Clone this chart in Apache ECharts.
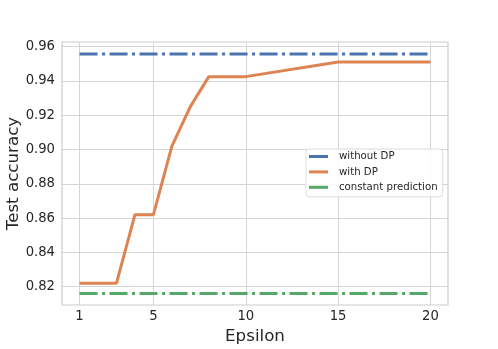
<!DOCTYPE html>
<html>
<head>
<meta charset="utf-8">
<script src="https://cdn.jsdelivr.net/npm/echarts@6/dist/echarts.min.js"></script>
<style>
  html, body { margin: 0; padding: 0; background: #fff; }
  #chart { width: 498px; height: 349px; }
</style>
</head>
<body>
<div id="chart"></div>
<script>
// values
const epsilon = [1, 2, 3, 4, 5, 6, 7, 8, 9, 10, 15, 20];
const withDP = [0.822, 0.822, 0.822, 0.862, 0.862, 0.902, 0.925, 0.9425, 0.9425, 0.9425, 0.951, 0.951];
const baselineX = [1, 20];
const withoutDP = [0.9557, 0.9557];
const constantPrediction = [0.816, 0.816];
const xTicks = [1, 5, 10, 15, 20];
const yTicks = [0.82, 0.84, 0.86, 0.88, 0.90, 0.92, 0.94, 0.96];

const font = "DejaVu Sans";
const textColor = "#262626";
const gridColor = "#d5d5d5";
const dashDot = [18, 4.5, 3, 4.5];

const pairs = (xs, ys) => xs.map((x, i) => [x, ys[i]]);

const chart = echarts.init(document.getElementById("chart"), null, { renderer: "canvas" });

chart.setOption({
    animation: false,
    textStyle: { fontFamily: font, color: textColor },
    grid: {
        left: 62, right: 50, top: 42, bottom: 44,
        containLabel: false,
        outerBoundsMode: "none",
        show: true,
        borderColor: "#cccccc",
        borderWidth: 1.2,
    },
    legend: {
        orient: "vertical",
        left: 306,
        top: 149,
        padding: [2.5, 5, 4.5, 3],
        itemGap: 5.4,
        itemWidth: 19,
        itemHeight: 3,
        icon: "rect",
        backgroundColor: "rgba(255,255,255,0.85)",
        borderColor: "#dddddd",
        borderWidth: 1,
        borderRadius: 3,
        textStyle: { fontFamily: font, fontSize: 10.2, color: textColor, padding: [0, 0, 0, 6] },
        data: ["without DP", "with DP", "constant prediction"],
    },
    xAxis: {
        type: "value",
        min: 0.05,
        max: 20.95,
        name: "Epsilon",
        nameLocation: "middle",
        nameGap: 23,
        nameMoveOverlap: false,
        nameTextStyle: { fontFamily: font, fontSize: 16.7, color: textColor },
        axisLine: { show: false },
        axisTick: { show: false, customValues: xTicks },
        axisLabel: {
            customValues: xTicks,
            fontFamily: font, fontSize: 13.2, color: textColor, margin: 5,
        },
        splitLine: { show: true, lineStyle: { color: gridColor, width: 1 } },
    },
    yAxis: {
        type: "value",
        min: 0.8093,
        max: 0.9627,
        name: "Test accuracy",
        nameLocation: "middle",
        nameGap: 40,
        nameMoveOverlap: false,
        nameTextStyle: { fontFamily: font, fontSize: 16.7, color: textColor },
        axisLine: { show: false },
        axisTick: { show: false, customValues: yTicks },
        axisLabel: {
            customValues: yTicks,
            fontFamily: font, fontSize: 13.2, color: textColor, margin: 7,
            formatter: (v) => v.toFixed(2),
        },
        splitLine: { show: true, lineStyle: { color: gridColor, width: 1 } },
    },
    series: [
        {
            name: "without DP",
            type: "line",
            data: pairs(baselineX, withoutDP),
            showSymbol: false,
            color: "#4c72b0",
            lineStyle: { width: 3, type: dashDot, cap: "butt" },
            z: 3,
        },
        {
            name: "with DP",
            type: "line",
            data: pairs(epsilon, withDP),
            showSymbol: false,
            color: "#dd8452",
            lineStyle: { width: 3, type: "solid" },
            z: 4,
        },
        {
            name: "constant prediction",
            type: "line",
            data: pairs(baselineX, constantPrediction),
            showSymbol: false,
            color: "#55a868",
            lineStyle: { width: 3, type: dashDot, cap: "butt" },
            z: 3,
        },
    ],
});
</script>
</body>
</html>
